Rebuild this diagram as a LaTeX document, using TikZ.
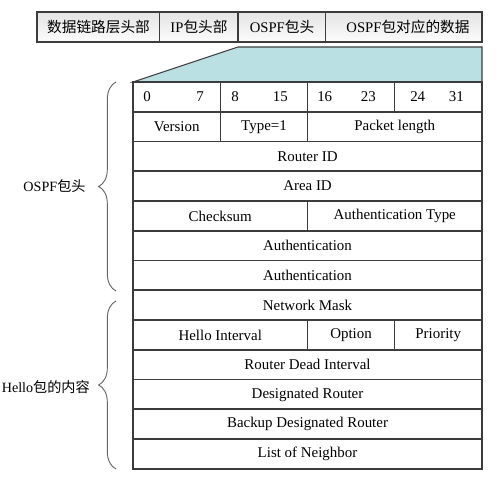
\documentclass[tikz,border=0pt]{standalone}
\usepackage{fontspec}
\setmainfont{Liberation Serif}
\newfontfamily\cjk{Noto Sans CJK SC}
\usetikzlibrary{decorations.pathreplacing}
\definecolor{headblue}{RGB}{186,224,228}
\definecolor{linegray}{RGB}{60,60,60}
\tikzset{
  field/.style={font=\fontsize{11.2}{13}\selectfont, inner sep=0pt},
  barfield/.style={font=\fontsize{11}{13}\selectfont, inner sep=0pt},
  bracelabel/.style={font=\fontsize{10.6}{12}\selectfont, inner sep=0pt},
  leftbrace/.style={decorate, decoration={brace, amplitude=13pt, aspect=0.5}, draw=gray!80!black, line width=0.7pt}
}
\begin{document}
\begin{tikzpicture}[x=0.75pt,y=-0.75pt]
\useasboundingbox (0,0) rectangle (499,478);
% frame on top
\draw[linegray, line width=0.8pt, top color=gray!22, bottom color=gray!2] (37,12) rectangle (482,42);
\draw[linegray, line width=0.8pt] (159.5,12) -- (159.5,42);
\draw[linegray, line width=0.8pt] (238,12) -- (238,42);
\draw[linegray, line width=0.8pt] (325.5,12) -- (325.5,42);
\node[barfield] (link) at (98.5,27) {\cjk 数据链路层头部};
\node[barfield] (ip) at (199,27) {IP\cjk 包头部};
\node[barfield] (ospf) at (282,27) {OSPF\cjk 包头};
\node[barfield] (data) at (408,27) {OSPF\cjk 包对应的数据};
% blow-up of the OSPF header
\draw[linegray, line width=0.8pt, fill=headblue] (238,47) -- (482,47) -- (482,82) -- (133,82) -- cycle;
% table
\draw[linegray, line width=1pt] (133,82) rectangle (482,469);
\draw[linegray, line width=1pt] (133,112) -- (482,112);
\draw[linegray, line width=1pt] (133,141.5) -- (482,141.5);
\draw[linegray, line width=1pt] (133,171) -- (482,171);
\draw[linegray, line width=1pt] (133,201) -- (482,201);
\draw[linegray, line width=1pt] (133,231) -- (482,231);
\draw[linegray, line width=1pt] (133,260.5) -- (482,260.5);
\draw[linegray, line width=1pt] (133,290) -- (482,290);
\draw[linegray, line width=1pt] (133,320) -- (482,320);
\draw[linegray, line width=1pt] (133,350) -- (482,350);
\draw[linegray, line width=1pt] (133,379.5) -- (482,379.5);
\draw[linegray, line width=1pt] (133,409) -- (482,409);
\draw[linegray, line width=1pt] (133,439) -- (482,439);
\draw[linegray, line width=1pt] (220.5,82) -- (220.5,141.5);
\draw[linegray, line width=1pt] (307.5,82) -- (307.5,141.5);
\draw[linegray, line width=1pt] (394.5,82) -- (394.5,112);
\draw[linegray, line width=1pt] (307.5,201) -- (307.5,231);
\draw[linegray, line width=1pt] (307.5,320) -- (307.5,350);
\draw[linegray, line width=1pt] (394.5,320) -- (394.5,350);
% bit numbers
\node[field, anchor=west] (b0) at (143,97) {0};
\node[field, anchor=east] (b7) at (204,97) {7};
\node[field, anchor=west] (b8) at (231,97) {8};
\node[field, anchor=east] (b15) at (288,97) {15};
\node[field, anchor=west] (b16) at (317,97) {16};
\node[field, anchor=east] (b23) at (376,97) {23};
\node[field, anchor=west] (b24) at (410,97) {24};
\node[field, anchor=east] (b31) at (464,97) {31};
% header fields
\node[field] (version) at (176.75,127) {Version};
\node[field] (type) at (264,127) {Type=1};
\node[field] (pktlen) at (394.75,127) {Packet length};
\node[field] (rid) at (307.5,156.5) {Router ID};
\node[field] (aid) at (307.5,186) {Area ID};
\node[field] (cksum) at (220.25,216) {Checksum};
\node[field] (autype) at (394.75,216) {Authentication Type};
\node[field] (auth1) at (307.5,245.5) {Authentication};
\node[field] (auth2) at (307.5,275.5) {Authentication};
% hello fields
\node[field] (mask) at (307.5,305) {Network Mask};
\node[field] (hint) at (220.25,335) {Hello Interval};
\node[field] (opt) at (351,335) {Option};
\node[field] (prio) at (438.25,335) {Priority};
\node[field] (dead) at (307.5,364.5) {Router Dead Interval};
\node[field] (dr) at (307.5,394.5) {Designated Router};
\node[field] (bdr) at (307.5,424) {Backup Designated Router};
\node[field] (nbr) at (307.5,454) {List of Neighbor};
% braces
\draw[leftbrace] (116,291) -- (116,82);
\draw[leftbrace] (116,469) -- (116,301);
\node[bracelabel] (hdrlabel) at (54.5,186) {OSPF\cjk 包头};
\node[bracelabel, anchor=east] (hellolabel) at (90,387) {Hello\cjk 包的内容};
\end{tikzpicture}
\end{document}
